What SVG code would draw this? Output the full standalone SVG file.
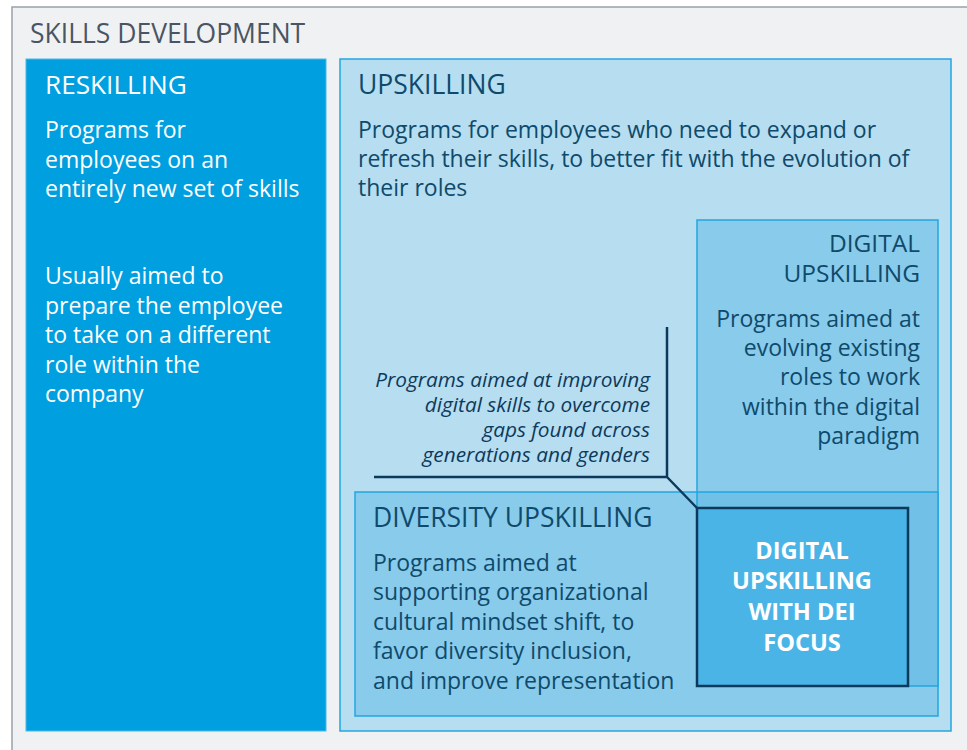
<svg xmlns="http://www.w3.org/2000/svg" width="967" height="750" viewBox="0 0 967 750">
  <style>
    text { font-family: "Open Sans", "Noto Sans", "Liberation Sans", sans-serif; }
    .title { font-size: 26.5px; fill: #4a5563; }
    .head-w { font-size: 26.2px; fill: #ffffff; }
    .body-w { font-size: 23px; fill: #ffffff; }
    .head-d { font-size: 26.5px; fill: #0f4a6b; }
    .head-s { font-size: 24.5px; fill: #0f4a6b; }
    .body-d { font-size: 23px; fill: #0f4a6b; }
    .note { font-size: 20.8px; font-style: italic; fill: #0d3a5c; }
    .dei { font-size: 23.6px; font-weight: bold; fill: #ffffff; }
    .box { stroke: #22a6e0; stroke-width: 1.5; }
    .leader { fill: none; stroke: #0d3a5c; stroke-width: 2.5; }
  </style>

  <!-- outer frame -->
  <g id="skills-development">
    <rect x="0" y="0" width="967" height="750" fill="#ffffff"/>
    <rect x="12" y="7" width="970" height="760" fill="#f0f1f3" stroke="#9aa1aa" stroke-width="1.5"/>
    <text class="title" x="30" y="43">SKILLS DEVELOPMENT</text>
  </g>

  <!-- reskilling column -->
  <g id="reskilling">
    <rect x="26" y="59" width="300" height="672" fill="#009fe0" stroke="#4cb8ea" stroke-width="1"/>
    <text class="head-w" x="45" y="94">RESKILLING</text>
    <text class="body-w" x="45" y="138">Programs for</text>
    <text class="body-w" x="45" y="168">employees on an</text>
    <text class="body-w" x="45" y="197">entirely new set of skills</text>
    <text class="body-w" x="45" y="284">Usually aimed to</text>
    <text class="body-w" x="45" y="314">prepare the employee</text>
    <text class="body-w" x="45" y="343">to take on a different</text>
    <text class="body-w" x="45" y="373">role within the</text>
    <text class="body-w" x="45" y="402">company</text>
  </g>

  <!-- upskilling panel -->
  <g id="upskilling">
    <rect class="box" x="340" y="59" width="611" height="672" fill="#b6ddf0"/>
    <text class="head-d" x="358" y="94">UPSKILLING</text>
    <text class="body-d" x="358" y="138">Programs for employees who need to expand or</text>
    <text class="body-d" x="358" y="167">refresh their skills, to better fit with the evolution of</text>
    <text class="body-d" x="358" y="196">their roles</text>
  </g>

  <!-- diversity upskilling -->
  <g id="diversity-upskilling">
    <rect class="box" x="355" y="492" width="583" height="224" fill="#89cbeb"/>
    <text class="head-d" x="373" y="527">DIVERSITY UPSKILLING</text>
    <text class="body-d" x="373" y="571">Programs aimed at</text>
    <text class="body-d" x="373" y="600">supporting organizational</text>
    <text class="body-d" x="373" y="630">cultural mindset shift, to</text>
    <text class="body-d" x="373" y="659">favor diversity inclusion,</text>
    <text class="body-d" x="373" y="689">and improve representation</text>
  </g>

  <!-- digital upskilling -->
  <g id="digital-upskilling">
    <rect x="697" y="220" width="241" height="272" fill="#89cbeb"/>
    <rect x="697" y="492" width="241" height="194" fill="#71c0e8"/>
    <rect class="box" x="697" y="220" width="241" height="466" fill="none"/>
    <line x1="697" y1="492" x2="938" y2="492" stroke="#22a6e0" stroke-width="1.5"/>
    <g text-anchor="end">
      <text class="head-s" x="920" y="252">DIGITAL</text>
      <text class="head-s" x="920" y="282">UPSKILLING</text>
      <text class="body-d" x="920" y="327">Programs aimed at</text>
      <text class="body-d" x="920" y="356">evolving existing</text>
      <text class="body-d" x="920" y="385">roles to work</text>
      <text class="body-d" x="920" y="415">within the digital</text>
      <text class="body-d" x="920" y="444">paradigm</text>
    </g>
  </g>

  <!-- intersection: digital upskilling with DEI focus -->
  <g id="digital-dei">
    <rect x="697" y="508" width="211" height="178" fill="#4bb4e6" stroke="#0d3a5c" stroke-width="2.5"/>
    <g text-anchor="middle">
      <text class="dei" x="802" y="559">DIGITAL</text>
      <text class="dei" x="802" y="589">UPSKILLING</text>
      <text class="dei" x="802" y="620">WITH DEI</text>
      <text class="dei" x="802" y="651">FOCUS</text>
    </g>
  </g>

  <!-- callout note -->
  <g id="connectors">
    <path class="leader" d="M667 327 V477 H374 M667 477 L697 508"/>
  </g>
  <g id="dei-note" text-anchor="end">
    <text class="note" x="650" y="387">Programs aimed at improving</text>
    <text class="note" x="650" y="412">digital skills to overcome</text>
    <text class="note" x="650" y="437">gaps found across</text>
    <text class="note" x="650" y="462">generations and genders</text>
  </g>
</svg>
